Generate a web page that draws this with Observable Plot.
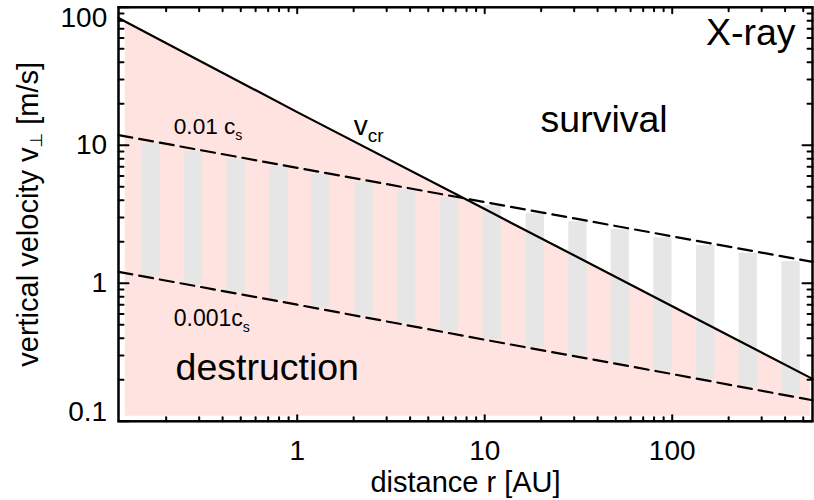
<!DOCTYPE html>
<html><head><meta charset="utf-8">
<script src="https://cdn.jsdelivr.net/npm/d3@7"></script>
<script src="https://cdn.jsdelivr.net/npm/@observablehq/plot@0.6"></script>
<style>body{margin:0;background:#fff} svg{display:block}</style>
</head><body><div id="chart"></div>
<script>
const font = "'Liberation Sans', Arial, Helvetica, 'DejaVu Sans', sans-serif";

// ---- data ----
const lineR  = [0.1114, 1, 10, 100, 560];
const vCrit  = [83.7, 17.4, 3.45, 0.683, 0.203];   // v_cr
const cs01   = [11.85, 6.87, 3.88, 2.19, 1.43];    // 0.01 c_s
const cs001  = [1.21, 0.70, 0.39, 0.22, 0.142];    // 0.001 c_s

const shadeR = [0.121, 546];
const shadeTop = [79.0, 0.207];
const shadeBottom = 0.109;

const barR      = [0.165, 0.278, 0.470, 0.793, 1.33, 2.26, 3.82, 6.45, 10.9, 18.5, 31.2, 52.5, 88.6, 150, 253, 428];
const barTop    = [10.36, 9.06, 7.98, 7.02, 6.14, 5.38, 4.70, 4.16, 3.64, 3.19, 2.79, 2.44, 2.14, 1.88, 1.65, 1.44];
const barBottom = [1.12, 0.980, 0.858, 0.759, 0.665, 0.581, 0.514, 0.450, 0.393, 0.344, 0.301, 0.264, 0.231, 0.202, 0.177, 0.156];

const xTickLabels = [1, 10, 100];
const yTickLabels = [0.1, 1, 10, 100];
const xDomain = [0.1114, 560];
const yDomain = [0.1, 100];

// annotation anchors (data units)
const annText = ["survival", "destruction", "X-ray", "v_cr", "0.01 c_s", "0.001c_s"];
const annR    = [19.85, 0.2244, 454.6, 2.004, 0.2197, 0.2197];
const annV    = [12.45, 0.1976, 52.9, 11.78, 12.11, 0.4944];

// ---- tables ----
const toRows = (ys) => lineR.map((r, i) => ({r, v: ys[i]}));
const bars = barR.map((r, i) => ({r, hi: barTop[i], lo: barBottom[i]}));
const shade = shadeR.map((r, i) => ({r, top: shadeTop[i]}));

const xs = d3.scaleLog().domain(xDomain).ticks();
const ys = d3.scaleLog().domain(yDomain).ticks();
const isMajor = d => Math.abs(Math.log10(d) - Math.round(Math.log10(d))) < 1e-9;
const xMaj = xs.filter(isMajor), xMin = xs.filter(d => !isMajor(d));
const yMaj = ys.filter(isMajor), yMin = ys.filter(d => !isMajor(d));

const tickShape = {draw(ctx, l) { ctx.moveTo(0, 0); ctx.lineTo(0, -l); }};
function ticksOn(side, values, len) {
  const rotate = {bottom: 0, top: 180, left: 90, right: -90}[side];
  const ch = (side === "bottom" || side === "top") ? "x" : "y";
  return Plot.vector(values, {[ch]: d => d, frameAnchor: side, length: len, rotate,
    anchor: "start", shape: tickShape, stroke: "black", strokeWidth: 2});
}
function ann(i, opts) {
  return Plot.text([annText[i]], {x: [annR[i]], y: [annV[i]], text: d => d,
    lineAnchor: "bottom", textAnchor: "start", fill: "black", ...opts});
}

const svg = Plot.plot({
  width: 814, height: 500,
  marginLeft: 118, marginRight: 2, marginTop: 6.8, marginBottom: 79.2,
  style: {fontFamily: font, background: "white", overflow: "visible"},
  x: {type: "log", domain: xDomain},
  y: {type: "log", domain: yDomain},
  marks: [
    Plot.areaY(shade, {x: "r", y1: shadeBottom, y2: "top", fill: "#ffe3e0"}),
    Plot.ruleX(bars, {x: "r", y1: "lo", y2: "hi", stroke: "#e6e6e6", strokeWidth: 18.3}),
    Plot.line(toRows(cs01), {x: "r", y: "v", stroke: "black", strokeWidth: 2.2, strokeDasharray: "14,7"}),
    Plot.line(toRows(cs001), {x: "r", y: "v", stroke: "black", strokeWidth: 2.2, strokeDasharray: "14,7"}),
    Plot.line(toRows(vCrit), {x: "r", y: "v", stroke: "black", strokeWidth: 2.2}),
    ticksOn("bottom", xMaj, 6), ticksOn("bottom", xMin, 4),
    ticksOn("top", xMaj, 6), ticksOn("top", xMin, 4),
    ticksOn("left", yMaj, 10), ticksOn("left", yMin, 5),
    ticksOn("right", yMaj, 10), ticksOn("right", yMin, 5),
    Plot.frame({stroke: "black", strokeWidth: 2.5}),
    Plot.axisX({ticks: xTickLabels, tickSize: 0, tickPadding: 18.6, fontSize: 28, tickFormat: d => String(d), label: null}),
    Plot.axisY({ticks: [100], tickSize: 0, tickPadding: 11.3, fontSize: 28, lineAnchor: "top", tickFormat: d => String(d), label: null}),
    Plot.axisY({ticks: [10, 1], tickSize: 0, tickPadding: 11.3, fontSize: 28, lineAnchor: "middle", tickFormat: d => String(d), label: null}),
    Plot.axisY({ticks: [0.1], tickSize: 0, tickPadding: 11.3, fontSize: 28, lineAnchor: "bottom", tickFormat: d => String(d), label: null}),
    Plot.text(["distance r [AU]"], {frameAnchor: "bottom", dy: 70.9, lineAnchor: "bottom", fontSize: 29, fill: "black"}),
    Plot.text(["vertical velocity v_⊥ [m/s]"], {frameAnchor: "left", rotate: -90, dx: -81, lineAnchor: "bottom", textAnchor: "middle", fontSize: 29, fill: "black"}),
    ann(0, {fontSize: 37.5}),
    ann(1, {fontSize: 37.5}),
    ann(2, {fontSize: 37.5, textAnchor: "end"}),
    ann(3, {fontSize: 28}),
    ann(4, {fontSize: 22.6}),
    ann(5, {fontSize: 23})
  ]
});

function rich(match, parts) {
  d3.select(svg).selectAll("text").filter(function() { return this.textContent === match; }).each(function() {
    const t = d3.select(this);
    t.text(null);
    for (const p of parts) {
      const s = t.append("tspan").text(p.t);
      if (p.dy) s.attr("dy", p.dy);
      if (p.size) s.attr("font-size", p.size);
    }
  });
}
rich("v_cr", [{t: "v"}, {t: "cr", dy: 6.7, size: 19}]);
rich("0.01 c_s", [{t: "0.01 c"}, {t: "s", dy: 6, size: 14}]);
rich("0.001c_s", [{t: "0.001c"}, {t: "s", dy: 6, size: 14}]);
rich("vertical velocity v_⊥ [m/s]", [{t: "vertical velocity v"}, {t: "⊥", dy: 4, size: 17}, {t: " [m/s]", dy: -4}]);

document.getElementById("chart").appendChild(svg);
</script>
</body></html>
